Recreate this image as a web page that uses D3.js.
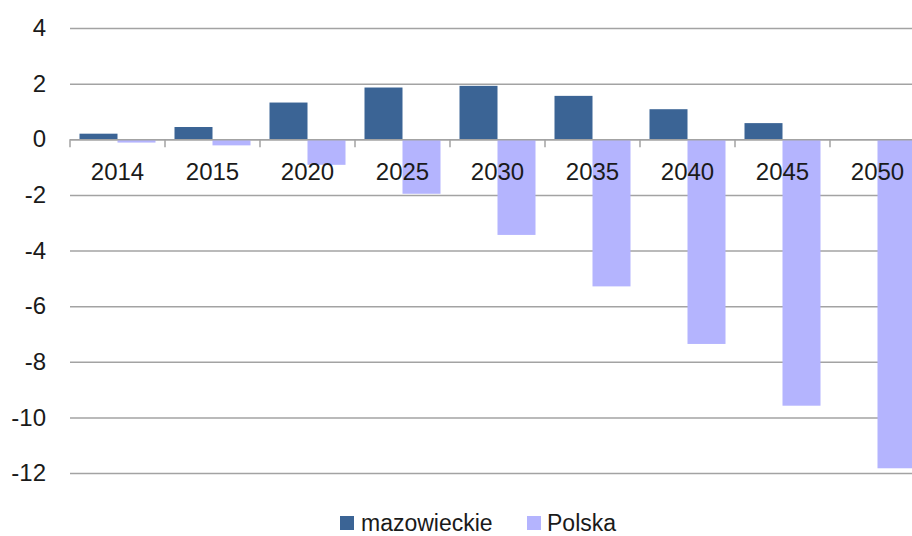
<!DOCTYPE html>
<html>
<head>
<meta charset="utf-8">
<script src="https://cdn.jsdelivr.net/npm/d3@7"></script>
<style>
  html, body { margin: 0; padding: 0; background: #fff; overflow: hidden; }
  svg { display: block; font-family: "Liberation Sans", Arial, sans-serif; }
</style>
</head>
<body>
<svg id="chart" width="912" height="536"></svg>
<script>
const categories = ["2014", "2015", "2020", "2025", "2030", "2035", "2040", "2045", "2050"];
const seriesNames = ["mazowieckie", "Polska"];
const mazowieckie = [0.2, 0.44, 1.32, 1.86, 1.92, 1.56, 1.08, 0.58, 0];
const polska = [-0.12, -0.22, -0.92, -1.96, -3.44, -5.29, -7.36, -9.58, -11.83];
const yTicks = [4, 2, 0, -2, -4, -6, -8, -10, -12];
const colors = ["#3b6495", "#b4b4fe"];

const svg = d3.select("#chart");
const plotLeft = 70, plotRight = 925, plotTop = 28, plotBottom = 473;

const x0 = d3.scaleBand().domain(categories).range([plotLeft, plotRight]).padding(0);
const x1 = d3.scaleBand().domain(seriesNames)
  .range([x0.bandwidth() * 0.1, x0.bandwidth() * 0.9]).padding(0);
const y = d3.scaleLinear().domain([-12, 4]).range([plotBottom, plotTop]);

// Gridlines + y labels
const yAxis = d3.axisLeft(y).tickValues(yTicks).tickSize(-(plotRight - plotLeft)).tickPadding(24)
  .tickFormat(d => d3.format("d")(d).replace("\u2212", "-"));
const gy = svg.append("g").attr("transform", `translate(${plotLeft},0)`).call(yAxis);
gy.select(".domain").remove();
gy.selectAll(".tick line").attr("stroke", "#a3a3a3").attr("stroke-width", 1.5);
gy.selectAll(".tick text").attr("font-size", 24).attr("fill", "#1a1a1a")
  .attr("font-family", "Liberation Sans, Arial, sans-serif");

// Bars
const data = categories.map((c, i) => ({ cat: c, vals: [mazowieckie[i], polska[i]] }));
const groups = svg.append("g").selectAll("g").data(data).join("g")
  .attr("transform", d => `translate(${x0(d.cat)},0)`);
groups.selectAll("rect").data(d => d.vals.map((v, j) => ({ v, s: seriesNames[j], j })))
  .join("rect")
  .attr("x", d => x1(d.s))
  .attr("width", x1.bandwidth())
  .attr("y", d => y(Math.max(0, d.v)))
  .attr("height", d => Math.abs(y(d.v) - y(0)))
  .attr("fill", d => colors[d.j]);

// Category axis at zero
const xAxis = d3.axisBottom(x0).tickSize(0).tickPadding(24);
const gx = svg.append("g").attr("transform", `translate(0,${y(0)})`).call(xAxis);
gx.select(".domain").attr("stroke", "#a3a3a3").attr("stroke-width", 1.5);
gx.selectAll(".tick text").attr("font-size", 24).attr("fill", "#1a1a1a")
  .attr("font-family", "Liberation Sans, Arial, sans-serif");
// Boundary tick marks
gx.selectAll(".bound").data(categories).join("line").attr("class", "bound")
  .attr("x1", d => x0(d)).attr("x2", d => x0(d))
  .attr("y1", 0).attr("y2", 8)
  .attr("stroke", "#a3a3a3").attr("stroke-width", 1.5);

// Legend
const legend = svg.append("g").attr("transform", "translate(0,522)");
const legendItems = [
  { name: seriesNames[0], color: colors[0], x: 340, tx: 361 },
  { name: seriesNames[1], color: colors[1], x: 527, tx: 547 }
];
legendItems.forEach(it => {
  legend.append("rect").attr("x", it.x).attr("y", -6).attr("width", 14).attr("height", 14)
    .attr("fill", it.color);
  legend.append("text").attr("x", it.tx).attr("y", 9).attr("font-size", 23)
    .attr("fill", "#1a1a1a").text(it.name);
});
</script>
</body>
</html>
